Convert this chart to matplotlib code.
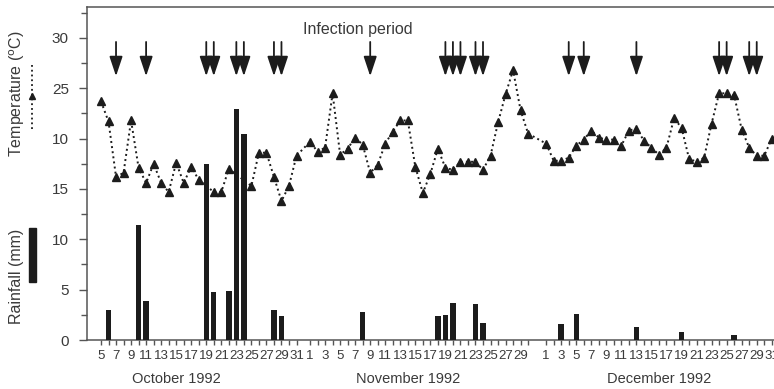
import numpy as np
import matplotlib
matplotlib.use('Agg')
import matplotlib.pyplot as plt
from matplotlib.lines import Line2D
from matplotlib.patches import Rectangle

plt.rcParams['font.family'] = ['Liberation Sans', 'DejaVu Sans']

# daily mean temperature (degC)
temp_oct_days = [5, 6, 7, 8, 9, 10, 11, 12, 13, 14, 15, 16, 17, 18, 20, 21, 22,
                 25, 26, 27, 28, 29, 30, 31]
temp_oct = [23.7, 21.7, 16.2, 16.6, 21.8, 17.1, 15.6, 17.5, 15.6, 14.7, 17.6, 15.6,
            17.2, 15.9, 14.7, 14.7, 17.0, 15.3, 18.6, 18.6, 16.2, 13.8, 15.3, 18.3]
temp_nov_days = list(range(1, 31))
temp_nov = [19.7, 18.7, 19.1, 24.5, 18.4, 19.0, 20.1, 19.4, 16.6, 17.4, 19.5, 20.7,
            21.8, 21.8, 17.2, 14.6, 16.5, 19.0, 17.1, 16.9, 17.7, 17.7, 17.7, 16.9,
            18.3, 21.6, 24.4, 26.8, 22.8, 20.5]
temp_dec_days = list(range(1, 32))
temp_dec = [19.5, 17.8, 17.8, 18.1, 19.3, 19.9, 20.8, 20.1, 19.9, 19.9, 19.3, 20.8,
            21.0, 19.8, 19.1, 18.4, 19.1, 22.0, 21.1, 18.0, 17.7, 18.1, 21.5, 24.5,
            24.5, 24.3, 20.9, 19.1, 18.3, 18.3, 20.0]

# daily rainfall (mm)
rain_oct_days = [6, 10, 11, 19, 20, 22, 23, 24, 28, 29]
rain_oct = [3.0, 11.4, 3.9, 17.5, 4.8, 4.9, 22.9, 20.5, 3.0, 2.4]
rain_nov_days = [8, 18, 19, 20, 23, 24]
rain_nov = [2.8, 2.4, 2.5, 3.7, 3.6, 1.7]
rain_dec_days = [3, 5, 13, 19, 26]
rain_dec = [1.6, 2.6, 1.3, 0.8, 0.5]

# infection periods
inf_oct = [7, 11, 19, 20, 23, 24, 28, 29]
inf_nov = [9, 19, 20, 21, 23, 24]
inf_dec = [4, 6, 13, 24, 25, 28, 29]

ytick_vals = [0, 5, 10, 15, 20, 25, 30]
ytick_text = ['0', '5', '10', '15', '10', '25', '30']
month_names = ['October 1992', 'November 1992', 'December 1992']

# x position of day 0 of each month (one empty slot between months)
month_start = {10: -5, 11: 26.8, 12: 58.2}
month_days = {10: range(5, 32), 11: range(1, 31), 12: range(1, 32)}
month_label_day = {10: 15, 11: 14, 12: 16}


def xpos(month, days):
    return np.asarray(days, dtype=float) + month_start[month]


ink = '#1c1c1c'
grey = '#3a3a3a'

fig = plt.figure(figsize=(7.74, 3.89), dpi=100)
ax = fig.add_axes([87 / 774, 49 / 389, (785.3 - 87) / 774, 333 / 389])

t_x = np.concatenate([xpos(10, temp_oct_days), xpos(11, temp_nov_days), xpos(12, temp_dec_days)])
t_y = np.concatenate([temp_oct, temp_nov, temp_dec])
ax.plot(t_x, t_y, ls=':', lw=1.4, color=ink, marker='^', ms=5.5, zorder=2)

r_x = np.concatenate([xpos(10, rain_oct_days), xpos(11, rain_nov_days), xpos(12, rain_dec_days)])
r_y = np.concatenate([rain_oct, rain_nov, rain_dec])
ax.bar(r_x, r_y, width=0.72, color=ink, zorder=3)

i_x = np.concatenate([xpos(10, inf_oct), xpos(11, inf_nov), xpos(12, inf_dec)])
for p in i_x:
    ax.annotate('', xy=(p, 26.2), xytext=(p, 29.6),
                arrowprops=dict(arrowstyle='-|>,head_length=1.2,head_width=0.4',
                                mutation_scale=10, lw=1.3, color=ink,
                                shrinkA=0, shrinkB=0))
ax.text(34.2, 30.8, 'Infection period', ha='center', va='center', fontsize=11.5, color=grey)

ax.set_xlim(-1.86, 91)
ax.set_ylim(0, 33.07)

# day ticks, odd days labelled
ticks, labels = [], []
for m in (10, 11, 12):
    for d in month_days[m]:
        ticks.append(d + month_start[m])
        labels.append(str(d) if d % 2 == 1 else '')
ax.set_xticks(ticks)
ax.set_xticklabels(labels, fontsize=9.5, color=grey)
ax.tick_params(axis='x', direction='out', length=3.5, width=1, pad=3.5, colors='#555555',
               labelcolor=grey)

ax.set_yticks(ytick_vals)
ax.set_yticklabels(ytick_text, fontsize=11, color=grey)
ax.set_yticks(np.arange(2.5, 33, 5), minor=True)
ax.tick_params(axis='y', which='major', direction='out', length=6, width=1, pad=7,
               colors='#555555', labelcolor=grey)
ax.tick_params(axis='y', which='minor', direction='out', length=4, width=1, colors='#555555')

for s in ax.spines.values():
    s.set_color('#555555')
    s.set_linewidth(1.1)

for m, name in zip((10, 11, 12), month_names):
    ax.text(month_label_day[m] + month_start[m], -0.117, name, transform=ax.get_xaxis_transform(),
            ha='center', va='center', fontsize=10.5, color=grey)

# axis titles with their symbol keys
fig.text(17 / 774, 1 - 94 / 389, 'Temperature ($^{\\rm o}$C)', rotation=90,
         ha='center', va='center', fontsize=11.5, color=grey)
fig.text(17 / 774, 1 - 276 / 389, 'Rainfall (mm)', rotation=90,
         ha='center', va='center', fontsize=11.5, color=grey)
fig.add_artist(Line2D([32 / 774, 32 / 774], [1 - 65 / 389, 1 - 130 / 389],
                      ls=':', lw=1.3, color=ink, transform=fig.transFigure))
fig.add_artist(Line2D([32 / 774], [1 - 96 / 389], marker='^', ms=5, color=ink,
                      transform=fig.transFigure))
fig.add_artist(Rectangle((29.3 / 774, 1 - 282 / 389), 6.7 / 774, 54 / 389,
                         color=ink, transform=fig.transFigure))

fig.savefig('out.png', dpi=100)
